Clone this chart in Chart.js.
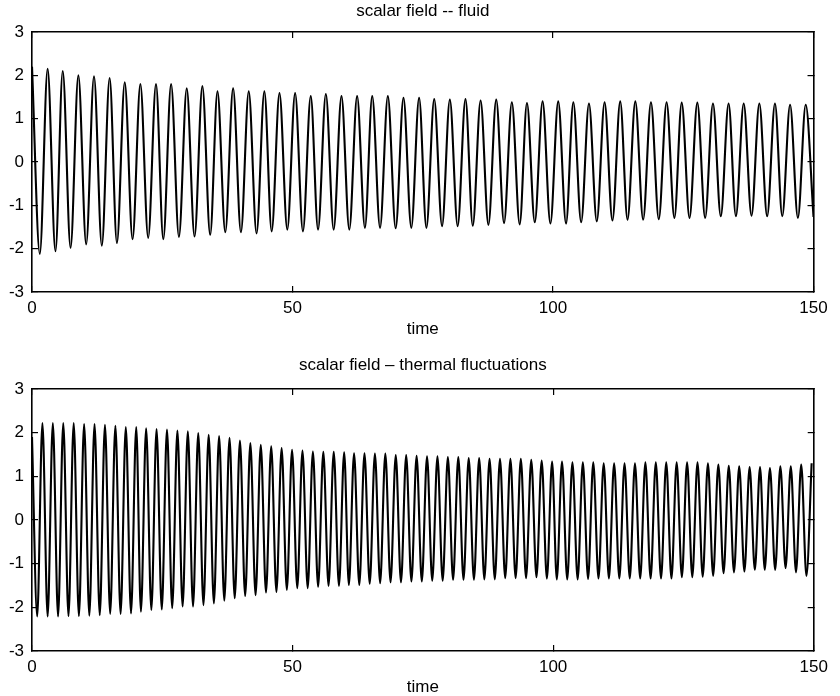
<!DOCTYPE html>
<html>
<head>
<meta charset="utf-8">
<title>scalar field</title>
<script src="https://cdn.jsdelivr.net/npm/chart.js@4.4.1/dist/chart.umd.min.js"></script>
<style>
  body { margin: 0; background: #fff; }
  canvas { display: block; }
</style>
</head>
<body>
<canvas id="fluidChart" width="840" height="340"></canvas>
<canvas id="thermalChart" width="840" height="356"></canvas>
<script>
// x ticks / y ticks
const timeTicks = [0, 50, 100, 150];
const valueTicks = [-3, -2, -1, 0, 1, 2, 3];

// scalar field - fluid: maxima and minima
const fluidPeakTimes = [0, 3.0, 5.9, 8.9, 11.9, 14.9, 17.8, 20.8, 23.8, 26.7, 29.7, 32.7, 35.6, 38.6, 41.6, 44.6, 47.5, 50.5, 53.5, 56.4, 59.4, 62.4, 65.3, 68.3, 71.3, 74.3, 77.2, 80.2, 83.2, 86.1, 89.1, 92.1, 95.0, 98.0, 101.0, 103.9, 106.9, 109.9, 112.9, 115.8, 118.8, 121.8, 124.7, 127.7, 130.7, 133.7, 136.6, 139.6, 142.6, 145.5, 148.5];
const fluidPeaks = [2.2, 2.15, 2.1, 2.0, 1.98, 1.94, 1.84, 1.8, 1.8, 1.8, 1.7, 1.75, 1.63, 1.7, 1.63, 1.63, 1.59, 1.59, 1.52, 1.57, 1.52, 1.52, 1.52, 1.52, 1.48, 1.48, 1.45, 1.44, 1.45, 1.42, 1.44, 1.38, 1.36, 1.4, 1.4, 1.38, 1.35, 1.38, 1.4, 1.4, 1.38, 1.38, 1.37, 1.37, 1.35, 1.35, 1.35, 1.35, 1.35, 1.32, 1.32];
const fluidTroughTimes = [1.5, 4.5, 7.4, 10.4, 13.4, 16.3, 19.3, 22.3, 25.2, 28.2, 31.2, 34.2, 37.1, 40.1, 43.1, 46.0, 49.0, 52.0, 54.9, 57.9, 60.9, 63.9, 66.8, 69.8, 72.8, 75.7, 78.7, 81.7, 84.6, 87.6, 90.6, 93.6, 96.5, 99.5, 102.5, 105.4, 108.4, 111.4, 114.3, 117.3, 120.3, 123.3, 126.2, 129.2, 132.2, 135.1, 138.1, 141.1, 144.0, 147.0, 150.0];
const fluidTroughs = [-2.12, -2.06, -1.98, -1.9, -1.93, -1.87, -1.78, -1.75, -1.78, -1.73, -1.72, -1.68, -1.62, -1.62, -1.65, -1.6, -1.56, -1.6, -1.56, -1.56, -1.56, -1.52, -1.52, -1.53, -1.52, -1.52, -1.48, -1.48, -1.47, -1.45, -1.41, -1.44, -1.39, -1.42, -1.42, -1.39, -1.37, -1.35, -1.33, -1.33, -1.32, -1.29, -1.29, -1.29, -1.25, -1.25, -1.24, -1.25, -1.25, -1.29, -1.27];

// scalar field - thermal fluctuations
const thermalPeakTimes = [0, 2, 4, 6, 8, 10, 12, 14, 16, 18, 20, 21.9, 23.9, 25.9, 27.9, 29.9, 31.9, 33.9, 35.9, 37.9, 39.9, 41.9, 43.9, 45.9, 47.9, 49.9, 51.9, 53.9, 55.9, 57.9, 59.9, 61.8, 63.8, 65.8, 67.8, 69.8, 71.8, 73.8, 75.8, 77.8, 79.8, 81.8, 83.8, 85.8, 87.8, 89.8, 91.8, 93.8, 95.8, 97.8, 99.8, 101.7, 103.7, 105.7, 107.7, 109.7, 111.7, 113.7, 115.7, 117.7, 119.7, 121.7, 123.7, 125.7, 127.7, 129.7, 131.7, 133.7, 135.7, 137.7, 139.7, 141.6, 143.6, 145.6, 147.6, 149.6];
const thermalPeaks = [1.9, 2.22, 2.22, 2.22, 2.22, 2.2, 2.2, 2.18, 2.16, 2.13, 2.13, 2.1, 2.08, 2.07, 2.05, 2.03, 1.99, 1.95, 1.92, 1.88, 1.82, 1.76, 1.72, 1.69, 1.65, 1.61, 1.59, 1.57, 1.56, 1.56, 1.55, 1.53, 1.53, 1.52, 1.52, 1.49, 1.49, 1.47, 1.46, 1.46, 1.44, 1.44, 1.42, 1.42, 1.4, 1.4, 1.4, 1.4, 1.38, 1.36, 1.34, 1.34, 1.32, 1.32, 1.32, 1.3, 1.3, 1.3, 1.3, 1.32, 1.32, 1.32, 1.32, 1.32, 1.32, 1.3, 1.27, 1.24, 1.23, 1.21, 1.21, 1.19, 1.23, 1.23, 1.27, 1.3];
const thermalTroughTimes = [1, 3, 5, 7, 9, 11, 13, 15, 17, 19, 20.9, 22.9, 24.9, 26.9, 28.9, 30.9, 32.9, 34.9, 36.9, 38.9, 40.9, 42.9, 44.9, 46.9, 48.9, 50.9, 52.9, 54.9, 56.9, 58.9, 60.8, 62.8, 64.8, 66.8, 68.8, 70.8, 72.8, 74.8, 76.8, 78.8, 80.8, 82.8, 84.8, 86.8, 88.8, 90.8, 92.8, 94.8, 96.8, 98.8, 100.7, 102.7, 104.7, 106.7, 108.7, 110.7, 112.7, 114.7, 116.7, 118.7, 120.7, 122.7, 124.7, 126.7, 128.7, 130.7, 132.7, 134.7, 136.7, 138.7, 140.6, 142.6, 144.6, 146.6, 148.6];
const thermalTroughs = [-2.21, -2.21, -2.21, -2.2, -2.2, -2.19, -2.18, -2.15, -2.15, -2.14, -2.1, -2.06, -2.05, -2.02, -1.98, -1.98, -1.95, -1.91, -1.85, -1.79, -1.74, -1.72, -1.66, -1.65, -1.6, -1.56, -1.56, -1.53, -1.51, -1.51, -1.49, -1.49, -1.46, -1.45, -1.43, -1.43, -1.41, -1.41, -1.39, -1.39, -1.37, -1.37, -1.37, -1.36, -1.36, -1.33, -1.33, -1.33, -1.31, -1.34, -1.36, -1.36, -1.36, -1.35, -1.34, -1.34, -1.34, -1.34, -1.34, -1.34, -1.34, -1.34, -1.31, -1.31, -1.3, -1.28, -1.22, -1.2, -1.18, -1.14, -1.14, -1.14, -1.1, -1.2, -1.28];

const FONT = "'Liberation Sans', Arial, Helvetica, sans-serif";

// merge maxima and minima into one time-ordered series
function series(peakT, peakV, troughT, troughV) {
  const pts = [];
  peakT.forEach((t, i) => pts.push({ x: t, y: peakV[i] }));
  troughT.forEach((t, i) => pts.push({ x: t, y: troughV[i] }));
  return pts.sort((a, b) => a.x - b.x);
}

function fixedTicks(list) {
  return (scale) => {
    scale.ticks = list.map((v) => ({ value: v }));
  };
}

function plotOptions(title, box) {
  const grid = { drawOnChartArea: false, drawTicks: true, tickLength: -6, color: "#000", lineWidth: 1.2 };
  const border = { display: true, color: "#000", width: 1.6 };
  const label = { color: "#000", font: { family: FONT, size: 17 } };
  const head = { family: FONT, size: 17, lineHeight: 1 };
  return {
    responsive: false,
    animation: false,
    events: [],
    plugins: { legend: { display: false }, tooltip: { enabled: false } },
    elements: { point: { radius: 0 } },
    scales: {
      x: {
        type: "linear", position: "bottom", min: 0, max: 150, grid, border,
        afterBuildTicks: fixedTicks(timeTicks),
        ticks: { ...label, padding: box.xTickPad, maxRotation: 0 },
        title: { display: true, text: "time", color: "#000", font: head, padding: { top: 0, bottom: box.timePad } },
        afterFit: (s) => { s.height = box.bottom; },
      },
      x2: {
        type: "linear", position: "top", min: 0, max: 150, grid, border,
        afterBuildTicks: fixedTicks(timeTicks),
        ticks: { display: false },
        title: { display: true, text: title, color: "#000", font: head, padding: { top: box.titlePad, bottom: 0 } },
        afterFit: (s) => { s.height = box.top; },
      },
      y: {
        type: "linear", position: "left", min: -3, max: 3, grid, border,
        afterBuildTicks: fixedTicks(valueTicks),
        ticks: { ...label, padding: 14 },
        afterFit: (s) => { s.width = 32; },
      },
      y2: {
        type: "linear", position: "right", min: -3, max: 3, grid, border,
        afterBuildTicks: fixedTicks(valueTicks),
        ticks: { display: false },
        afterFit: (s) => { s.width = 21; },
      },
    },
  };
}

function lineDataset(points) {
  return {
    data: points,
    borderColor: "#000",
    borderWidth: 2.1,
    fill: false,
    cubicInterpolationMode: "monotone",
    pointRadius: 0,
  };
}

// Fluid chart
const fluidCtx = document.getElementById("fluidChart").getContext("2d");
new Chart(fluidCtx, {
  type: "line",
  data: { datasets: [lineDataset(series(fluidPeakTimes, fluidPeaks, fluidTroughTimes, fluidTroughs))] },
  options: plotOptions("scalar field -- fluid", { top: 32, bottom: 48, titlePad: 2.5, timePad: 2.5, xTickPad: 12.3 }),
});

// Thermal fluctuations chart
const thermalCtx = document.getElementById("thermalChart").getContext("2d");
new Chart(thermalCtx, {
  type: "line",
  data: { datasets: [lineDataset(series(thermalPeakTimes, thermalPeaks, thermalTroughTimes, thermalTroughs))] },
  options: plotOptions("scalar field \u2013 thermal fluctuations", { top: 49, bottom: 45, titlePad: 16.5, timePad: 0, xTickPad: 12.1 }),
});
</script>
</body>
</html>
